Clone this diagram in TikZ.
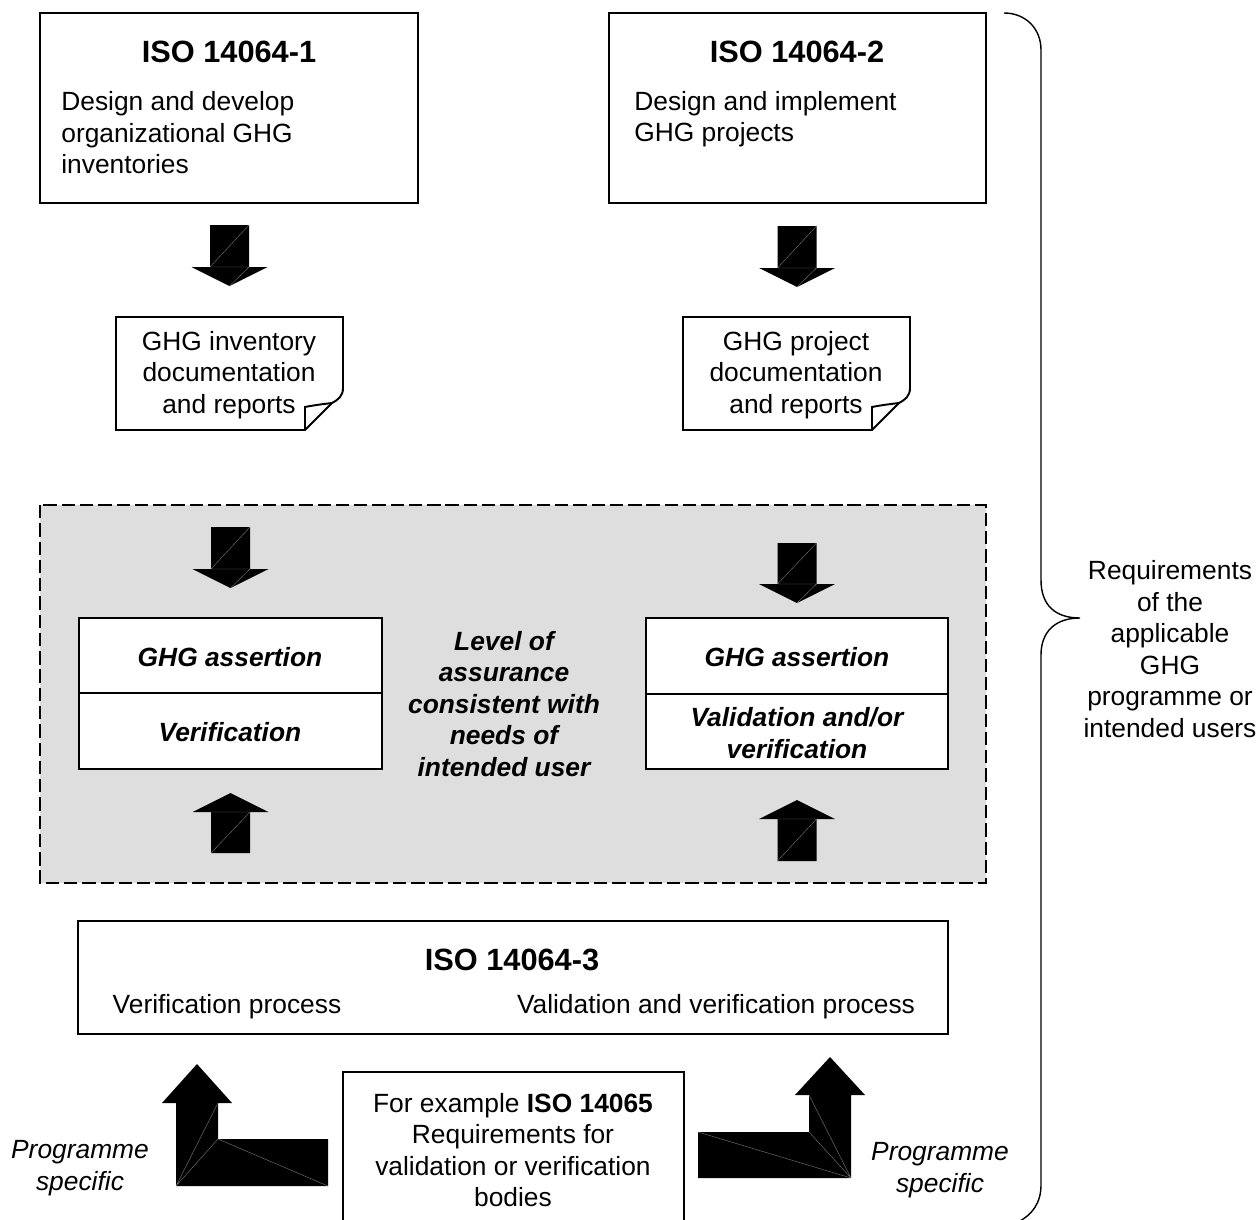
\documentclass[tikz,border=0pt]{standalone}
\usepackage{fontspec}
\setmainfont{Liberation Sans}
\newcommand{\bodysize}{\fontsize{15}{17.9}\selectfont}
\newcommand{\titlesize}{\fontsize{17.5}{21}\selectfont\bfseries}
\newcommand{\emphsize}{\fontsize{15}{17.9}\selectfont\bfseries\itshape}
\tikzset{
  box/.style={draw,line width=1.1pt},
  dashbox/.style={draw,line width=1.2pt,dash pattern=on 7.6pt off 2.8pt,fill=black!13},
  seam/.style={draw=black!55,line width=0.25pt},
  txt/.style={inner sep=0pt,font=\bodysize,align=center},
  emtxt/.style={inner sep=0pt,font=\emphsize,align=center},
}
% block arrows: centre x, shaft end, tip
\newcommand{\blkdown}[3]{%
  \fill ({#1-19.5},#2) -- ({#1+19.5},#2) -- ({#1+19.5},{#3-19}) -- ({#1+38},{#3-19}) -- (#1,#3) -- ({#1-38},{#3-19}) -- ({#1-19.5},{#3-19}) -- cycle;
  \draw[seam] ({#1-19.5},{#3-19}) -- ({#1+19.5},#2) ({#1-19.5},{#3-19}) -- ({#1+19.5},{#3-19}) -- (#1,#3);}
\newcommand{\blkup}[3]{%
  \fill ({#1-19.5},#2) -- ({#1+19.5},#2) -- ({#1+19.5},{#3+19}) -- ({#1+38},{#3+19}) -- (#1,#3) -- ({#1-38},{#3+19}) -- ({#1-19.5},{#3+19}) -- cycle;
  \draw[seam] ({#1-19.5},#2) -- ({#1+19.5},{#3+19}) -- ({#1-19.5},{#3+19});}
% document with folded corner: x offset
\newcommand{\docshape}[1]{%
  \draw[box,fill=white] ({#1+116},317) -- ({#1+343},317) -- ({#1+343},388) .. controls ({#1+343},396) and ({#1+338},400) .. ({#1+332},403) -- ({#1+305},430) -- ({#1+116},430) -- cycle;
  \draw[box] ({#1+305},430) -- ({#1+305},407) .. controls ({#1+315},405) and ({#1+324},404) .. ({#1+332},403);}
\begin{document}
\begin{tikzpicture}[x={(0.02cm,0)},y={(0,-0.02cm)}]
  \useasboundingbox (0,0) rectangle (1258,1220);
  % standards on top
  \draw[box] (40,13) rectangle (418,203);
  \node[txt,font=\titlesize] (iso1) at (229,52) {ISO 14064-1};
  \node[txt,align=left,anchor=west] (iso1txt) at (61,133) {Design and develop\\organizational GHG\\inventories};
  \draw[box] (609,13) rectangle (986,203);
  \node[txt,font=\titlesize] (iso2) at (797,52) {ISO 14064-2};
  \node[txt,align=left,anchor=west] (iso2txt) at (634,119) {Design and implement\\GHG projects};
  \blkdown{229.5}{225}{286}
  \blkdown{797}{226}{287}
  % documentation
  \docshape{0}
  \node[txt] (doc1) at (229,375) {GHG inventory\\documentation\\and reports};
  \docshape{567}
  \node[txt] (doc2) at (796,375) {GHG project\\documentation\\and reports};
  % assurance area
  \draw[dashbox] (40,505) rectangle (986,883);
  \blkdown{230.5}{527}{588}
  \blkdown{797}{543}{603}
  \blkup{230.5}{853}{793}
  \blkup{797}{861}{800}
  \draw[box,fill=white] (79,618) rectangle (382,769);
  \draw[box] (79,693) -- (382,693);
  \node[emtxt] (assert1) at (230,657) {GHG assertion};
  \node[emtxt] (verif1) at (230,732) {Verification};
  \draw[box,fill=white] (646,618) rectangle (948,769);
  \draw[box] (646,694) -- (948,694);
  \node[emtxt] (assert2) at (797,657) {GHG assertion};
  \node[emtxt] (valid2) at (797,733) {Validation and/or\\verification};
  \node[emtxt] (level) at (504,704) {Level of\\assurance\\consistent with\\needs of\\intended user};
  % ISO 14064-3
  \draw[box] (78,921) rectangle (948,1034);
  \node[txt,font=\titlesize] (iso3) at (512,960) {ISO 14064-3};
  \node[txt] (verproc) at (227,1007) {Verification process};
  \node[txt] (valproc) at (716,1007) {Validation and verification process};
  % bodies and programmes
  \draw[box] (343,1222) -- (343,1072) -- (684,1072) -- (684,1222);
  \node[txt] (iso65) at (513,1150) {For example \textbf{ISO 14065}\\Requirements for\\validation or verification\\bodies};
  \fill (197,1064) -- (232,1103) -- (218,1103) -- (218,1139) -- (328,1139) -- (328,1186) -- (176,1186) -- (176,1103) -- (162,1103) -- cycle;
  \draw[seam] (176,1186) -- (218,1103) (176,1186) -- (218,1139) -- (328,1186);
  \fill (830,1057) -- (865,1095) -- (851,1095) -- (851,1178) -- (698,1178) -- (698,1132) -- (809,1132) -- (809,1095) -- (795,1095) -- cycle;
  \draw[seam] (698,1132) -- (851,1178) (809,1132) -- (851,1178) (809,1095) -- (851,1178);
  \node[txt,font=\bodysize\itshape] (prog1) at (80,1168) {Programme\\specific};
  \node[txt,font=\bodysize\itshape] (prog2) at (940,1170) {Programme\\specific};
  % brace
  \draw[line width=0.8pt] (1004,13) .. controls (1025,13) and (1041,28) .. (1041,50) -- (1041,580)
    .. controls (1041,605) and (1055,618) .. (1080,618)
    .. controls (1055,618) and (1041,632) .. (1041,655) -- (1041,1185)
    .. controls (1041,1203) and (1032,1215) .. (1018,1222);
  \node[txt] (req) at (1170,649) {Requirements\\of the\\applicable\\GHG\\programme or\\intended users};
\end{tikzpicture}
\end{document}
